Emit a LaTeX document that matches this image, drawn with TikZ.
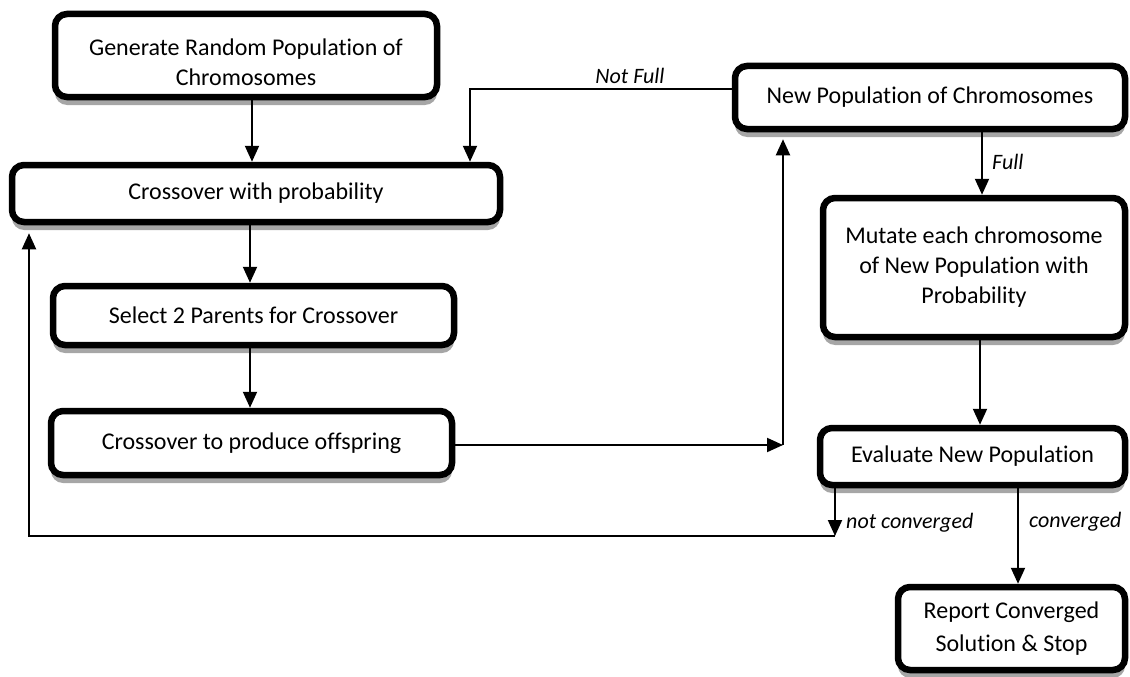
\documentclass[tikz,border=0pt]{standalone}
\usepackage{fontspec}
\setmainfont{Carlito}[Ligatures={NoCommon}]
\usetikzlibrary{arrows.meta,shadows}
\begin{document}
\begin{tikzpicture}[x=1pt,y=-1pt,
  box/.style={draw, line width=6.5pt, rounded corners=12pt, align=center,
    font=\fontsize{24}{30}\selectfont, inner sep=0pt, fill=white,
    drop shadow={shadow xshift=0pt, shadow yshift=-8pt, fill=black!35, opacity=1}},
  arr/.style={line width=2pt, -{Triangle[length=16pt,width=14pt]}},
  lab/.style={font=\fontsize{22}{24}\selectfont\itshape, inner sep=0pt}]
\useasboundingbox (0,0) rectangle (1130,677);

\node[box, minimum width=382pt, minimum height=83pt] (gen) at (246,55.5) {};
\node[align=center, font=\fontsize{24}{30}\selectfont, inner sep=0pt] (gentext) at (246,62) {Generate Random Population of\\Chromosomes};
\node[box, minimum width=488pt, minimum height=57pt] (cwp) at (256,193.5) {Crossover with probability};
\node[box, minimum width=401pt, minimum height=59pt] (sel) at (253.5,315.5) {Select 2 Parents for Crossover};
\node[box, minimum width=401pt, minimum height=64pt] (cpo) at (251.5,443) {Crossover to produce offspring};
\node[box, minimum width=390pt, minimum height=63pt] (np) at (930,97.5) {New Population of Chromosomes};
\node[box, minimum width=302pt, minimum height=139pt] (mut) at (974,267.5) {Mutate each chromosome\\of New Population with\\Probability};
\node[box, minimum width=305pt, minimum height=57pt] (ev) at (972.5,456.5) {Evaluate New Population};
\node[box, minimum width=227pt, minimum height=83pt, font=\fontsize{24}{33}\selectfont] (rep) at (1011.5,628.5) {Report Converged\\Solution \& Stop};

% left column
\coordinate (xa) at (252,0);
\draw[arr] (gen.south -| xa) -- (cwp.north -| xa);
\coordinate (xb) at (250,0);
\draw[arr] (cwp.south -| xb) -- (sel.north -| xb);
\draw[arr] (sel.south -| xb) -- (cpo.north -| xb);

% offspring to new population
\coordinate (c1) at (783,445);
\draw[arr] (cpo.east |- c1) -- (c1);
\draw[arr, shorten >=7pt] (c1) -- (c1 |- np.south);

% not full loop
\coordinate (nf) at (470,89);
\draw[arr] (np.west |- nf) -- (nf) -- (nf |- cwp.north);
\node[lab] (lnf) at (630,76) {Not Full};

% full
\coordinate (xf) at (982,0);
\draw[arr] (np.south -| xf) -- (mut.north -| xf);
\node[lab, anchor=west] (lf) at (992,162) {Full};

\coordinate (xm) at (980,0);
\draw[arr] (mut.south -| xm) -- (ev.north -| xm);

% not converged loop
\coordinate (nc) at (835,536);
\draw[arr] (ev.south -| nc) -- (nc);
\coordinate (nl) at (29,536);
\draw[arr, shorten >=8pt] (nc) -- (nl) -- (nl |- cwp.south);
\node[lab, anchor=west] (lnc) at (846,523) {not converged};

% converged
\coordinate (xc) at (1018,0);
\draw[arr] (ev.south -| xc) -- (rep.north -| xc);
\node[lab, anchor=west] (lc) at (1029,522) {converged};
\end{tikzpicture}
\end{document}
